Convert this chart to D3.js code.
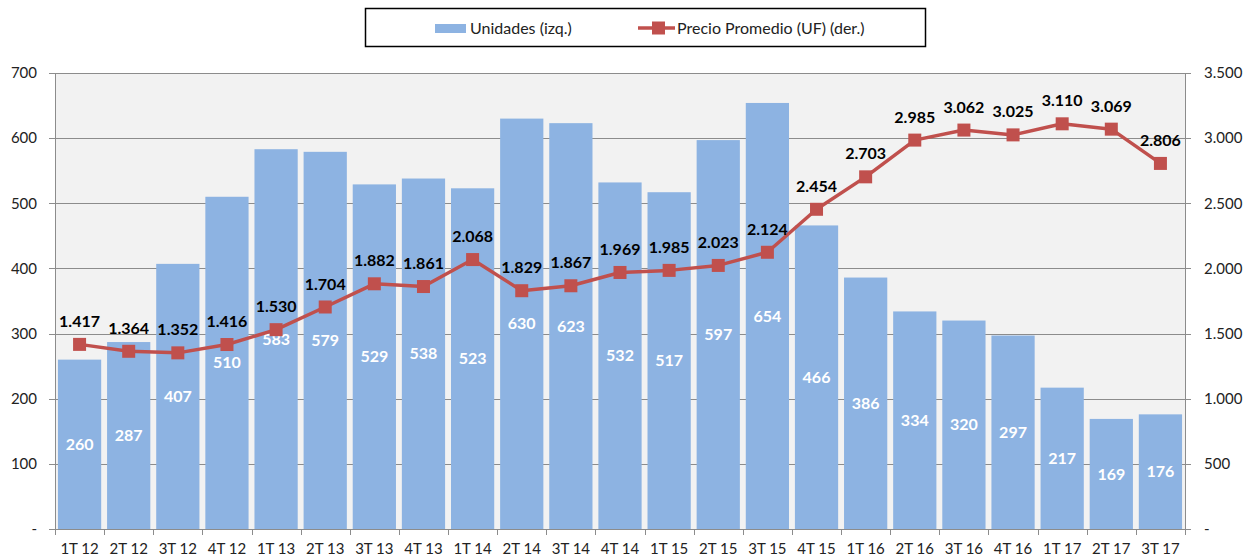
<!DOCTYPE html>
<html>
<head>
<meta charset="utf-8">
<script src="https://cdn.jsdelivr.net/npm/d3@7"></script>
<style>
  body { margin: 0; background: #fff; }
  svg text { font-family: Lato, "Noto Sans", sans-serif; }
</style>
</head>
<body>
<svg id="chart" width="1244" height="556"></svg>
<script>
var categories = ["1T 12", "2T 12", "3T 12", "4T 12", "1T 13", "2T 13", "3T 13", "4T 13",
    "1T 14", "2T 14", "3T 14", "4T 14", "1T 15", "2T 15", "3T 15", "4T 15",
    "1T 16", "2T 16", "3T 16", "4T 16", "1T 17", "2T 17", "3T 17"];
var unidades = [260, 287, 407, 510, 583, 579, 529, 538, 523, 630, 623, 532, 517, 597, 654, 466,
    386, 334, 320, 297, 217, 169, 176];
var precio = [1417, 1364, 1352, 1416, 1530, 1704, 1882, 1861, 2068, 1829, 1867, 1969, 1985, 2023,
    2124, 2454, 2703, 2985, 3062, 3025, 3110, 3069, 2806];
var leftTicks = [0, 100, 200, 300, 400, 500, 600, 700];
var rightTicks = [0, 500, 1000, 1500, 2000, 2500, 3000, 3500];

var plotLeft = 55, plotRight = 1185, plotTop = 73, plotBottom = 529;

var svg = d3.select("#chart");

var fmt = d3.formatLocale({ decimal: ",", thousands: ".", grouping: [3], currency: ["", ""] }).format(",d");
function tickText(d) { return d === 0 ? "-" : fmt(d); }

var x = d3.scaleBand().domain(categories).range([plotLeft, plotRight]).paddingInner(0.12).paddingOuter(0.06);
var yL = d3.scaleLinear().domain([0, 700]).range([plotBottom, plotTop]);
var yR = d3.scaleLinear().domain([0, 3500]).range([plotBottom, plotTop]);

// plot background
svg.append("rect")
    .attr("x", plotLeft).attr("y", plotTop)
    .attr("width", plotRight - plotLeft).attr("height", plotBottom - plotTop)
    .attr("fill", "#f2f2f2");

// gridlines
svg.append("g")
    .selectAll("line")
    .data(leftTicks.slice(1))
    .enter()
    .append("line")
    .attr("x1", plotLeft - 6).attr("x2", plotRight + 6)
    .attr("y1", function (d) { return Math.round(yL(d)) + 0.5; })
    .attr("y2", function (d) { return Math.round(yL(d)) + 0.5; })
    .attr("stroke", "#8c8c8c").attr("stroke-width", 1);

// bars
svg.append("g")
    .selectAll("rect")
    .data(unidades)
    .enter()
    .append("rect")
    .attr("x", function (d, i) { return x(categories[i]); })
    .attr("y", function (d) { return yL(d); })
    .attr("width", x.bandwidth())
    .attr("height", function (d) { return plotBottom - yL(d); })
    .attr("fill", "#8db3e2");

// axes
var axisColor = "#8c8c8c";
svg.append("line").attr("x1", plotLeft + 0.5).attr("x2", plotLeft + 0.5).attr("y1", plotTop).attr("y2", plotBottom)
    .attr("stroke", axisColor);
svg.append("line").attr("x1", plotRight + 0.5).attr("x2", plotRight + 0.5).attr("y1", plotTop).attr("y2", plotBottom)
    .attr("stroke", axisColor);
svg.append("line").attr("x1", plotLeft - 6).attr("x2", plotRight + 6).attr("y1", plotBottom + 0.5).attr("y2", plotBottom + 0.5)
    .attr("stroke", axisColor);

// category boundary ticks
svg.append("g")
    .selectAll("line")
    .data(d3.range(categories.length + 1))
    .enter()
    .append("line")
    .attr("x1", function (i) { return Math.round(plotLeft + i * x.step()) + 0.5; })
    .attr("x2", function (i) { return Math.round(plotLeft + i * x.step()) + 0.5; })
    .attr("y1", plotBottom).attr("y2", plotBottom + 6)
    .attr("stroke", axisColor);

// left tick labels
svg.append("g")
    .selectAll("text")
    .data(leftTicks)
    .enter()
    .append("text")
    .attr("x", 37)
    .attr("y", function (d) { return yL(d); })
    .attr("dy", "0.35em")
    .attr("text-anchor", "end")
    .attr("font-size", 15)
    .attr("fill", "#222")
    .text(tickText);

// right tick labels
svg.append("g")
    .selectAll("text")
    .data(rightTicks)
    .enter()
    .append("text")
    .attr("x", 1204)
    .attr("y", function (d) { return yR(d); })
    .attr("dy", "0.35em")
    .attr("text-anchor", "start")
    .attr("font-size", 15)
    .attr("fill", "#222")
    .text(tickText);

// category labels
svg.append("g")
    .selectAll("text")
    .data(categories)
    .enter()
    .append("text")
    .attr("x", function (d) { return x(d) + x.bandwidth() / 2; })
    .attr("y", 549)
    .attr("dy", "0.35em")
    .attr("text-anchor", "middle")
    .attr("font-size", 15)
    .attr("fill", "#222")
    .text(function (d) { return d; });

// bar value labels
svg.append("g")
    .selectAll("text")
    .data(unidades)
    .enter()
    .append("text")
    .attr("x", function (d, i) { return x(categories[i]) + x.bandwidth() / 2; })
    .attr("y", function (d) { return (yL(d) + plotBottom) / 2; })
    .attr("dy", "0.35em")
    .attr("text-anchor", "middle")
    .attr("font-size", 16)
    .attr("font-weight", "bold")
    .attr("fill", "#fff")
    .text(function (d) { return d; });

// price line
var cx = function (d, i) { return x(categories[i]) + x.bandwidth() / 2; };
var line = d3.line()
    .x(cx)
    .y(function (d) { return yR(d); });

svg.append("path")
    .datum(precio)
    .attr("d", line)
    .attr("fill", "none")
    .attr("stroke", "#c0504d")
    .attr("stroke-width", 3.5)
    .attr("stroke-linejoin", "round");

svg.append("g")
    .selectAll("rect")
    .data(precio)
    .enter()
    .append("rect")
    .attr("x", function (d, i) { return cx(d, i) - 6.5; })
    .attr("y", function (d) { return yR(d) - 6.5; })
    .attr("width", 13).attr("height", 13)
    .attr("fill", "#c0504d");

svg.append("g")
    .selectAll("text")
    .data(precio)
    .enter()
    .append("text")
    .attr("x", cx)
    .attr("y", function (d) { return yR(d) - 23; })
    .attr("dy", "0.35em")
    .attr("text-anchor", "middle")
    .attr("font-size", 16)
    .attr("font-weight", "bold")
    .attr("fill", "#000")
    .text(function (d) { return fmt(d); });

// legend
var legend = svg.append("g");
legend.append("rect")
    .attr("x", 365.5).attr("y", 8.5).attr("width", 560).attr("height", 38)
    .attr("fill", "#fff").attr("stroke", "#000").attr("stroke-width", 1.5);
legend.append("rect")
    .attr("x", 435).attr("y", 24).attr("width", 31).attr("height", 9)
    .attr("fill", "#8db3e2");
legend.append("text")
    .attr("x", 470).attr("y", 28).attr("dy", "0.35em")
    .attr("font-size", 16).attr("fill", "#222")
    .text("Unidades (izq.)");
legend.append("line")
    .attr("x1", 638).attr("x2", 675).attr("y1", 28).attr("y2", 28)
    .attr("stroke", "#c0504d").attr("stroke-width", 3.5);
legend.append("rect")
    .attr("x", 652).attr("y", 21.5).attr("width", 13).attr("height", 13)
    .attr("fill", "#c0504d");
legend.append("text")
    .attr("x", 677).attr("y", 28).attr("dy", "0.35em")
    .attr("font-size", 16).attr("fill", "#222")
    .text("Precio Promedio (UF) (der.)");
</script>
</body>
</html>
